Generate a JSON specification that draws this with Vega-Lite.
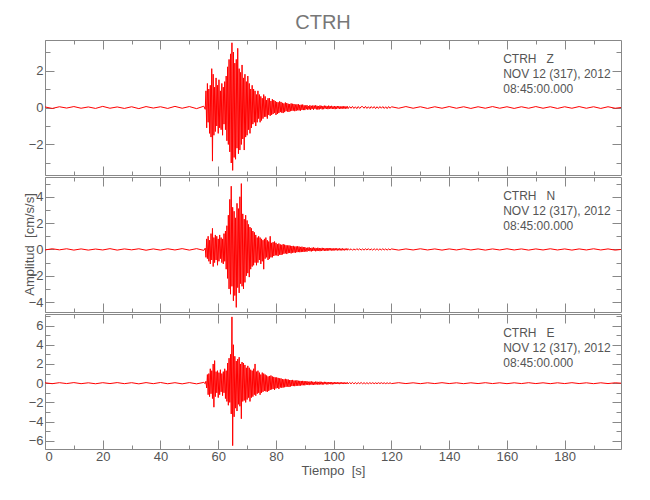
{
"$schema": "https://vega.github.io/schema/vega-lite/v6.json",
"padding": {"left": 22, "top": 13, "right": 5, "bottom": 5},
"spacing": 0,
"title": {"text": "CTRH", "fontSize": 20, "font": "Liberation Sans", "color": "#777", "fontWeight": "normal", "anchor": "middle", "offset": 6},
"config": {
  "view": {"stroke": "#888", "strokeWidth": 1},
  "axis": {"labelFont": "Liberation Sans", "labelFontSize": 13, "labelColor": "#555", "titleFont": "Liberation Sans", "titleFontSize": 13, "titleColor": "#555", "titleFontWeight": "normal", "tickColor": "#888", "grid": false, "domain": false}
},
"datasets": {
"z": [{"t":0,"v":0.03},{"t":2.5,"v":-0.05},{"t":5,"v":0.04},{"t":7.5,"v":-0.03},{"t":10,"v":0.05},{"t":12.5,"v":-0.04},{"t":15,"v":0.03},{"t":17.5,"v":-0.05},{"t":20,"v":0.06},{"t":22.5,"v":-0.04},{"t":25,"v":0.03},{"t":27.5,"v":-0.05},{"t":30,"v":0.04},{"t":32.5,"v":-0.06},{"t":35,"v":0.05},{"t":37.5,"v":-0.03},{"t":40,"v":0.04},{"t":42.5,"v":-0.05},{"t":45,"v":0.06},{"t":47.5,"v":-0.04},{"t":50,"v":0.05},{"t":52.5,"v":-0.06},{"t":55,"v":0.07},
{"t":55.5,"v":-0.1},{"t":55.75,"v":0.9},{"t":56,"v":-1.1},{"t":56.25,"v":1.3},{"t":56.5,"v":-0.8},{"t":56.75,"v":1.0},{"t":57,"v":-1.4},{"t":57.25,"v":1.2},{"t":57.5,"v":-1.6},{"t":57.75,"v":2.1},{"t":58,"v":-2.9},{"t":58.25,"v":1.8},{"t":58.5,"v":-1.5},{"t":58.75,"v":1.1},{"t":59,"v":-1.3},{"t":59.25,"v":1.6},{"t":59.5,"v":-1.0},{"t":59.75,"v":1.2},{"t":60,"v":-1.4},{"t":60.25,"v":1.5},{"t":60.5,"v":-1.1},{"t":60.75,"v":0.9},{"t":61,"v":-1.2},{"t":61.25,"v":1.3},{"t":61.5,"v":-1.5},{"t":61.75,"v":1.1},{"t":62,"v":-0.9},{"t":62.25,"v":1.4},{"t":62.5,"v":-1.2},{"t":62.75,"v":1.7},{"t":63,"v":-1.8},{"t":63.25,"v":2.2},{"t":63.5,"v":-2.0},{"t":63.75,"v":2.6},{"t":64,"v":-2.4},{"t":64.25,"v":2.9},{"t":64.5,"v":-3.0},{"t":64.75,"v":3.5},{"t":65,"v":-3.4},{"t":65.25,"v":3.0},{"t":65.5,"v":-2.7},{"t":65.75,"v":2.4},{"t":66,"v":-2.8},{"t":66.25,"v":2.6},{"t":66.5,"v":-2.2},{"t":66.75,"v":3.2},{"t":67,"v":-2.5},{"t":67.25,"v":2.1},{"t":67.5,"v":-2.3},{"t":67.75,"v":1.9},{"t":68,"v":-2.0},{"t":68.25,"v":2.3},{"t":68.5,"v":-1.7},{"t":68.75,"v":1.6},{"t":69,"v":-2.3},{"t":69.25,"v":1.8},{"t":69.5,"v":-1.6},{"t":69.75,"v":1.4},{"t":70,"v":-1.5},{"t":70.25,"v":1.7},{"t":70.5,"v":-1.2},{"t":70.75,"v":1.3},{"t":71,"v":-1.4},{"t":71.25,"v":1.0},{"t":71.5,"v":-1.1},{"t":71.75,"v":1.2},{"t":72,"v":-0.9},{"t":72.25,"v":1.0},{"t":72.5,"v":-0.8},{"t":72.75,"v":0.9},{"t":73,"v":-1.0},{"t":73.25,"v":0.7},{"t":73.5,"v":-0.8},{"t":73.75,"v":0.9},{"t":74,"v":-0.6},{"t":74.25,"v":0.7},{"t":74.5,"v":-0.8},{"t":74.75,"v":0.6},{"t":75,"v":-0.7},{"t":75.25,"v":0.5},{"t":75.5,"v":-0.6},{"t":75.75,"v":0.7},{"t":76,"v":-0.5},{"t":76.25,"v":0.6},{"t":76.5,"v":-0.5},{"t":76.75,"v":0.4},{"t":77,"v":-0.6},{"t":77.25,"v":0.5},{"t":77.5,"v":-0.4},{"t":77.75,"v":0.5},{"t":78,"v":-0.45},{"t":78.25,"v":0.35},{"t":78.5,"v":-0.4},{"t":78.75,"v":0.45},{"t":79,"v":-0.35},{"t":79.25,"v":0.4},{"t":79.5,"v":-0.3},{"t":79.75,"v":0.35},{"t":80,"v":-0.4},{"t":80.25,"v":0.3},{"t":80.5,"v":-0.35},{"t":80.75,"v":0.28},{"t":81,"v":-0.3},{"t":81.25,"v":0.33},{"t":81.5,"v":-0.25},{"t":81.75,"v":0.3},{"t":82,"v":-0.28},{"t":82.25,"v":0.25},{"t":82.5,"v":-0.3},{"t":82.75,"v":0.22},{"t":83,"v":-0.25},{"t":83.25,"v":0.27},{"t":83.5,"v":-0.2},{"t":83.75,"v":0.24},{"t":84,"v":-0.22},{"t":84.25,"v":0.2},{"t":84.5,"v":-0.24},{"t":84.75,"v":0.19},{"t":85,"v":-0.2},{"t":85.25,"v":0.22},{"t":85.5,"v":-0.18},{"t":85.75,"v":0.2},{"t":86,"v":-0.17},{"t":86.25,"v":0.19},{"t":86.5,"v":-0.2},{"t":86.75,"v":0.16},{"t":87,"v":-0.18},{"t":87.25,"v":0.17},{"t":87.5,"v":-0.15},{"t":87.75,"v":0.18},{"t":88,"v":-0.16},{"t":88.25,"v":0.14},{"t":88.5,"v":-0.17},{"t":88.75,"v":0.15},{"t":89,"v":-0.13},{"t":89.25,"v":0.16},{"t":89.5,"v":-0.14},{"t":89.75,"v":0.12},
{"t":90,"v":-0.14},{"t":90.25,"v":0.11},{"t":90.5,"v":-0.09},{"t":90.75,"v":0.13},{"t":91,"v":-0.12},{"t":91.25,"v":0.08},{"t":91.5,"v":-0.1},{"t":91.75,"v":0.12},{"t":92,"v":-0.13},{"t":92.25,"v":0.09},
{"t":92.5,"v":-0.08},{"t":92.75,"v":0.11},{"t":93,"v":-0.12},{"t":93.25,"v":0.1},{"t":93.5,"v":-0.07},{"t":93.75,"v":0.12},{"t":94,"v":-0.1},{"t":94.25,"v":0.09},{"t":94.5,"v":-0.11},{"t":94.75,"v":0.08},
{"t":95,"v":-0.1},{"t":95.25,"v":0.11},{"t":95.5,"v":-0.07},{"t":95.75,"v":0.09},{"t":96,"v":-0.1},{"t":96.25,"v":0.08},{"t":96.5,"v":-0.09},{"t":96.75,"v":0.1},{"t":97,"v":-0.06},{"t":97.25,"v":0.09},
{"t":97.5,"v":-0.08},{"t":97.75,"v":0.07},{"t":98,"v":-0.09},{"t":98.25,"v":0.1},{"t":98.5,"v":-0.07},{"t":98.75,"v":0.08},{"t":99,"v":-0.06},{"t":99.25,"v":0.09},{"t":99.5,"v":-0.08},{"t":99.75,"v":0.06},
{"t":100,"v":-0.07},{"t":100.25,"v":0.08},{"t":100.5,"v":-0.09},{"t":100.75,"v":0.06},{"t":101,"v":-0.07},{"t":101.25,"v":0.08},{"t":101.5,"v":-0.05},{"t":101.75,"v":0.07},{"t":102,"v":-0.08},{"t":102.25,"v":0.06},
{"t":102.5,"v":-0.07},{"t":102.75,"v":0.05},{"t":103,"v":-0.06},{"t":103.25,"v":0.08},{"t":103.5,"v":-0.06},{"t":103.75,"v":0.05},{"t":104,"v":-0.07},{"t":104.25,"v":0.06},{"t":104.5,"v":-0.05},{"t":104.75,"v":0.06},
{"t":105,"v":-0.06},{"t":105.5,"v":0.05},{"t":106,"v":-0.04},{"t":106.5,"v":0.06},{"t":107,"v":-0.05},{"t":107.5,"v":0.04},{"t":108,"v":-0.06},{"t":108.5,"v":0.05},{"t":109,"v":-0.05},{"t":109.5,"v":0.04},{"t":110,"v":0.05},{"t":110.5,"v":-0.04},{"t":111,"v":0.06},{"t":111.5,"v":-0.05},{"t":112,"v":0.04},{"t":112.5,"v":-0.05},{"t":113,"v":0.05},{"t":113.5,"v":-0.04},{"t":114,"v":0.05},{"t":114.5,"v":-0.06},{"t":115,"v":0.04},{"t":115.5,"v":-0.05},{"t":116,"v":0.05},{"t":116.5,"v":-0.04},{"t":117,"v":0.05},{"t":117.5,"v":-0.05},{"t":118,"v":0.04},{"t":118.5,"v":-0.06},{"t":119,"v":0.05},{"t":119.5,"v":-0.04},
{"t":120,"v":0.04},{"t":122.5,"v":-0.04},{"t":125,"v":0.05},{"t":127.5,"v":-0.04},{"t":130,"v":0.04},{"t":132.5,"v":-0.05},{"t":135,"v":0.04},{"t":137.5,"v":-0.04},{"t":140,"v":0.05},{"t":142.5,"v":-0.04},{"t":145,"v":0.04},{"t":147.5,"v":-0.05},{"t":150,"v":0.04},{"t":152.5,"v":-0.04},{"t":155,"v":0.05},{"t":157.5,"v":-0.04},{"t":160,"v":0.04},{"t":162.5,"v":-0.05},{"t":165,"v":0.04},{"t":167.5,"v":-0.04},{"t":170,"v":0.05},{"t":172.5,"v":-0.04},{"t":175,"v":0.04},{"t":177.5,"v":-0.05},{"t":180,"v":0.04},{"t":182.5,"v":-0.04},{"t":185,"v":0.05},{"t":187.5,"v":-0.04},{"t":190,"v":0.04},{"t":192.5,"v":-0.05},{"t":195,"v":0.04},{"t":197.5,"v":-0.04},{"t":199.5,"v":0}],
"n": [{"t":0,"v":-0.04},{"t":2.5,"v":0.05},{"t":5,"v":-0.03},{"t":7.5,"v":0.05},{"t":10,"v":-0.05},{"t":12.5,"v":0.04},{"t":15,"v":-0.05},{"t":17.5,"v":0.03},{"t":20,"v":-0.04},{"t":22.5,"v":0.06},{"t":25,"v":-0.05},{"t":27.5,"v":0.04},{"t":30,"v":-0.03},{"t":32.5,"v":0.05},{"t":35,"v":-0.06},{"t":37.5,"v":0.04},{"t":40,"v":-0.05},{"t":42.5,"v":0.05},{"t":45,"v":-0.04},{"t":47.5,"v":0.06},{"t":50,"v":-0.05},{"t":52.5,"v":0.06},{"t":55,"v":-0.07},
{"t":55.5,"v":0.1},{"t":55.75,"v":-0.6},{"t":56,"v":0.8},{"t":56.25,"v":-0.7},{"t":56.5,"v":1.0},{"t":56.75,"v":-0.9},{"t":57,"v":0.7},{"t":57.25,"v":-1.1},{"t":57.5,"v":1.2},{"t":57.75,"v":-0.8},{"t":58,"v":1.6},{"t":58.25,"v":-1.3},{"t":58.5,"v":0.9},{"t":58.75,"v":-1.0},{"t":59,"v":1.1},{"t":59.25,"v":-0.8},{"t":59.5,"v":1.0},{"t":59.75,"v":-1.2},{"t":60,"v":0.8},{"t":60.25,"v":-0.9},{"t":60.5,"v":1.1},{"t":60.75,"v":-0.7},{"t":61,"v":0.9},{"t":61.25,"v":-1.0},{"t":61.5,"v":0.8},{"t":61.75,"v":-1.1},{"t":62,"v":1.2},{"t":62.25,"v":-0.9},{"t":62.5,"v":1.4},{"t":62.75,"v":-1.5},{"t":63,"v":1.8},{"t":63.25,"v":-2.2},{"t":63.5,"v":2.6},{"t":63.75,"v":-3.0},{"t":64,"v":3.8},{"t":64.25,"v":-3.4},{"t":64.5,"v":4.8},{"t":64.75,"v":-2.8},{"t":65,"v":3.2},{"t":65.25,"v":-3.9},{"t":65.5,"v":2.9},{"t":65.75,"v":-3.5},{"t":66,"v":2.4},{"t":66.25,"v":-4.4},{"t":66.5,"v":3.5},{"t":66.75,"v":-2.9},{"t":67,"v":3.1},{"t":67.25,"v":-3.3},{"t":67.5,"v":4.0},{"t":67.75,"v":-2.6},{"t":68,"v":5.0},{"t":68.25,"v":-2.8},{"t":68.5,"v":2.7},{"t":68.75,"v":-3.0},{"t":69,"v":2.3},{"t":69.25,"v":-2.5},{"t":69.5,"v":2.6},{"t":69.75,"v":-2.0},{"t":70,"v":2.2},{"t":70.25,"v":-1.8},{"t":70.5,"v":1.9},{"t":70.75,"v":-2.1},{"t":71,"v":1.7},{"t":71.25,"v":-1.5},{"t":71.5,"v":1.6},{"t":71.75,"v":-1.3},{"t":72,"v":1.4},{"t":72.25,"v":-1.2},{"t":72.5,"v":1.3},{"t":72.75,"v":-1.0},{"t":73,"v":1.1},{"t":73.25,"v":-1.2},{"t":73.5,"v":0.9},{"t":73.75,"v":-1.0},{"t":74,"v":1.0},{"t":74.25,"v":-0.8},{"t":74.5,"v":0.9},{"t":74.75,"v":-1.1},{"t":75,"v":0.8},{"t":75.25,"v":-0.9},{"t":75.5,"v":0.7},{"t":75.75,"v":-1.5},{"t":76,"v":0.8},{"t":76.25,"v":-0.7},{"t":76.5,"v":0.9},{"t":76.75,"v":-0.6},{"t":77,"v":0.7},{"t":77.25,"v":-0.8},{"t":77.5,"v":0.6},{"t":77.75,"v":-0.7},{"t":78,"v":1.0},{"t":78.25,"v":-0.6},{"t":78.5,"v":0.5},{"t":78.75,"v":-0.6},{"t":79,"v":0.55},{"t":79.25,"v":-0.5},{"t":79.5,"v":0.6},{"t":79.75,"v":-0.45},{"t":80,"v":0.5},{"t":80.25,"v":-0.45},{"t":80.5,"v":0.4},{"t":80.75,"v":-0.5},{"t":81,"v":0.45},{"t":81.25,"v":-0.4},{"t":81.5,"v":0.38},{"t":81.75,"v":-0.42},{"t":82,"v":0.35},{"t":82.25,"v":-0.38},{"t":82.5,"v":0.4},{"t":82.75,"v":-0.33},{"t":83,"v":0.36},{"t":83.25,"v":-0.3},{"t":83.5,"v":0.32},{"t":83.75,"v":-0.35},{"t":84,"v":0.3},{"t":84.25,"v":-0.28},{"t":84.5,"v":0.31},{"t":84.75,"v":-0.27},{"t":85,"v":0.28},{"t":85.25,"v":-0.3},{"t":85.5,"v":0.26},{"t":85.75,"v":-0.25},{"t":86,"v":0.27},{"t":86.25,"v":-0.24},{"t":86.5,"v":0.22},{"t":86.75,"v":-0.25},{"t":87,"v":0.23},{"t":87.25,"v":-0.21},{"t":87.5,"v":0.24},{"t":87.75,"v":-0.2},{"t":88,"v":0.22},{"t":88.25,"v":-0.21},{"t":88.5,"v":0.19},{"t":88.75,"v":-0.2},{"t":89,"v":0.21},{"t":89.25,"v":-0.18},{"t":89.5,"v":0.17},{"t":89.75,"v":-0.19},
{"t":90,"v":0.18},{"t":90.25,"v":-0.15},{"t":90.5,"v":0.12},{"t":90.75,"v":-0.17},{"t":91,"v":0.14},{"t":91.25,"v":-0.1},{"t":91.5,"v":0.16},{"t":91.75,"v":-0.13},{"t":92,"v":0.11},{"t":92.25,"v":-0.15},
{"t":92.5,"v":0.13},{"t":92.75,"v":-0.12},{"t":93,"v":0.15},{"t":93.25,"v":-0.1},{"t":93.5,"v":0.12},{"t":93.75,"v":-0.14},{"t":94,"v":0.09},{"t":94.25,"v":-0.12},{"t":94.5,"v":0.13},{"t":94.75,"v":-0.1},
{"t":95,"v":0.11},{"t":95.25,"v":-0.13},{"t":95.5,"v":0.09},{"t":95.75,"v":-0.11},{"t":96,"v":0.12},{"t":96.25,"v":-0.08},{"t":96.5,"v":0.1},{"t":96.75,"v":-0.11},{"t":97,"v":0.09},{"t":97.25,"v":-0.1},
{"t":97.5,"v":0.08},{"t":97.75,"v":-0.1},{"t":98,"v":0.11},{"t":98.25,"v":-0.08},{"t":98.5,"v":0.09},{"t":98.75,"v":-0.07},{"t":99,"v":0.1},{"t":99.25,"v":-0.08},{"t":99.5,"v":0.07},{"t":99.75,"v":-0.09},
{"t":100,"v":0.08},{"t":100.25,"v":-0.07},{"t":100.5,"v":0.09},{"t":100.75,"v":-0.06},{"t":101,"v":0.08},{"t":101.25,"v":-0.08},{"t":101.5,"v":0.07},{"t":101.75,"v":-0.06},{"t":102,"v":0.08},{"t":102.25,"v":-0.07},
{"t":102.5,"v":0.06},{"t":102.75,"v":-0.07},{"t":103,"v":0.08},{"t":103.25,"v":-0.06},{"t":103.5,"v":0.05},{"t":103.75,"v":-0.07},{"t":104,"v":0.06},{"t":104.25,"v":-0.05},{"t":104.5,"v":0.07},{"t":104.75,"v":-0.06},
{"t":105,"v":0.06},{"t":105.5,"v":-0.05},{"t":106,"v":0.05},{"t":106.5,"v":-0.06},{"t":107,"v":0.04},{"t":107.5,"v":-0.05},{"t":108,"v":0.06},{"t":108.5,"v":-0.04},{"t":109,"v":0.05},{"t":109.5,"v":-0.05},{"t":110,"v":0.04},{"t":110.5,"v":-0.05},{"t":111,"v":0.05},{"t":111.5,"v":-0.04},{"t":112,"v":0.06},{"t":112.5,"v":-0.05},{"t":113,"v":0.04},{"t":113.5,"v":-0.05},{"t":114,"v":0.05},{"t":114.5,"v":-0.04},{"t":115,"v":0.05},{"t":115.5,"v":-0.05},{"t":116,"v":0.04},{"t":116.5,"v":-0.04},{"t":117,"v":0.05},{"t":117.5,"v":-0.04},{"t":118,"v":0.04},{"t":118.5,"v":-0.05},{"t":119,"v":0.04},{"t":119.5,"v":-0.04},
{"t":120,"v":0.04},{"t":122.5,"v":-0.05},{"t":125,"v":0.04},{"t":127.5,"v":-0.04},{"t":130,"v":0.05},{"t":132.5,"v":-0.04},{"t":135,"v":0.04},{"t":137.5,"v":-0.05},{"t":140,"v":0.04},{"t":142.5,"v":-0.04},{"t":145,"v":0.05},{"t":147.5,"v":-0.04},{"t":150,"v":0.04},{"t":152.5,"v":-0.05},{"t":155,"v":0.04},{"t":157.5,"v":-0.04},{"t":160,"v":0.05},{"t":162.5,"v":-0.04},{"t":165,"v":0.04},{"t":167.5,"v":-0.05},{"t":170,"v":0.04},{"t":172.5,"v":-0.04},{"t":175,"v":0.05},{"t":177.5,"v":-0.04},{"t":180,"v":0.04},{"t":182.5,"v":-0.05},{"t":185,"v":0.04},{"t":187.5,"v":-0.04},{"t":190,"v":0.05},{"t":192.5,"v":-0.04},{"t":195,"v":0.04},{"t":197.5,"v":-0.05},{"t":199.5,"v":0}],
"e": [{"t":0,"v":0.04},{"t":2.5,"v":-0.05},{"t":5,"v":0.05},{"t":7.5,"v":-0.04},{"t":10,"v":0.06},{"t":12.5,"v":-0.05},{"t":15,"v":0.04},{"t":17.5,"v":-0.06},{"t":20,"v":0.05},{"t":22.5,"v":-0.04},{"t":25,"v":0.06},{"t":27.5,"v":-0.05},{"t":30,"v":0.05},{"t":32.5,"v":-0.07},{"t":35,"v":0.06},{"t":37.5,"v":-0.05},{"t":40,"v":0.07},{"t":42.5,"v":-0.06},{"t":45,"v":0.05},{"t":47.5,"v":-0.07},{"t":50,"v":0.06},{"t":52.5,"v":-0.07},{"t":55,"v":0.08},
{"t":55.5,"v":-0.05},{"t":55.75,"v":0.2},{"t":56,"v":-0.5},{"t":56.25,"v":0.9},{"t":56.5,"v":-1.2},{"t":56.75,"v":1.0},{"t":57,"v":-1.4},{"t":57.25,"v":1.5},{"t":57.5,"v":-1.1},{"t":57.75,"v":1.3},{"t":58,"v":-1.6},{"t":58.25,"v":2.0},{"t":58.5,"v":-2.5},{"t":58.75,"v":2.35},{"t":59,"v":-1.4},{"t":59.25,"v":1.2},{"t":59.5,"v":-1.0},{"t":59.75,"v":1.3},{"t":60,"v":-1.5},{"t":60.25,"v":1.1},{"t":60.5,"v":-1.2},{"t":60.75,"v":1.4},{"t":61,"v":-0.9},{"t":61.25,"v":1.0},{"t":61.5,"v":-1.3},{"t":61.75,"v":1.2},{"t":62,"v":-1.0},{"t":62.25,"v":1.5},{"t":62.5,"v":-1.6},{"t":62.75,"v":1.3},{"t":63,"v":-1.9},{"t":63.25,"v":2.1},{"t":63.5,"v":-2.3},{"t":63.75,"v":2.6},{"t":64,"v":-2.0},{"t":64.25,"v":3.0},{"t":64.5,"v":-3.2},{"t":64.75,"v":6.9},{"t":65,"v":-6.5},{"t":65.25,"v":4.0},{"t":65.5,"v":-3.5},{"t":65.75,"v":2.8},{"t":66,"v":-2.6},{"t":66.25,"v":2.3},{"t":66.5,"v":-2.9},{"t":66.75,"v":2.5},{"t":67,"v":-2.2},{"t":67.25,"v":2.7},{"t":67.5,"v":-2.4},{"t":67.75,"v":2.0},{"t":68,"v":-3.7},{"t":68.25,"v":2.2},{"t":68.5,"v":-1.9},{"t":68.75,"v":2.1},{"t":69,"v":-1.8},{"t":69.25,"v":1.9},{"t":69.5,"v":-2.0},{"t":69.75,"v":1.6},{"t":70,"v":-1.7},{"t":70.25,"v":1.8},{"t":70.5,"v":-1.5},{"t":70.75,"v":1.6},{"t":71,"v":-1.9},{"t":71.25,"v":1.4},{"t":71.5,"v":-1.5},{"t":71.75,"v":1.3},{"t":72,"v":-1.4},{"t":72.25,"v":1.5},{"t":72.5,"v":-1.2},{"t":72.75,"v":2.0},{"t":73,"v":-1.3},{"t":73.25,"v":1.2},{"t":73.5,"v":-1.1},{"t":73.75,"v":1.3},{"t":74,"v":-1.0},{"t":74.25,"v":1.1},{"t":74.5,"v":-1.2},{"t":74.75,"v":0.9},{"t":75,"v":-1.0},{"t":75.25,"v":1.1},{"t":75.5,"v":-0.9},{"t":75.75,"v":1.0},{"t":76,"v":-0.8},{"t":76.25,"v":0.9},{"t":76.5,"v":-0.85},{"t":76.75,"v":0.8},{"t":77,"v":-0.9},{"t":77.25,"v":0.7},{"t":77.5,"v":-0.8},{"t":77.75,"v":0.75},{"t":78,"v":-0.7},{"t":78.25,"v":0.8},{"t":78.5,"v":-0.65},{"t":78.75,"v":0.7},{"t":79,"v":-0.6},{"t":79.25,"v":0.65},{"t":79.5,"v":-0.7},{"t":79.75,"v":0.6},{"t":80,"v":-0.55},{"t":80.25,"v":0.6},{"t":80.5,"v":-0.5},{"t":80.75,"v":0.55},{"t":81,"v":-0.6},{"t":81.25,"v":0.5},{"t":81.5,"v":-0.45},{"t":81.75,"v":0.5},{"t":82,"v":-0.48},{"t":82.25,"v":0.42},{"t":82.5,"v":-0.45},{"t":82.75,"v":0.4},{"t":83,"v":-0.42},{"t":83.25,"v":0.45},{"t":83.5,"v":-0.38},{"t":83.75,"v":0.4},{"t":84,"v":-0.35},{"t":84.25,"v":0.38},{"t":84.5,"v":-0.4},{"t":84.75,"v":0.33},{"t":85,"v":-0.35},{"t":85.25,"v":0.32},{"t":85.5,"v":-0.3},{"t":85.75,"v":0.34},{"t":86,"v":-0.3},{"t":86.25,"v":0.28},{"t":86.5,"v":-0.31},{"t":86.75,"v":0.27},{"t":87,"v":-0.28},{"t":87.25,"v":0.3},{"t":87.5,"v":-0.26},{"t":87.75,"v":0.25},{"t":88,"v":-0.27},{"t":88.25,"v":0.24},{"t":88.5,"v":-0.25},{"t":88.75,"v":0.23},{"t":89,"v":-0.22},{"t":89.25,"v":0.24},{"t":89.5,"v":-0.21},{"t":89.75,"v":0.22},
{"t":90,"v":-0.22},{"t":90.25,"v":0.19},{"t":90.5,"v":-0.16},{"t":90.75,"v":0.21},{"t":91,"v":-0.18},{"t":91.25,"v":0.15},{"t":91.5,"v":-0.2},{"t":91.75,"v":0.17},{"t":92,"v":-0.14},{"t":92.25,"v":0.19},
{"t":92.5,"v":-0.17},{"t":92.75,"v":0.15},{"t":93,"v":-0.18},{"t":93.25,"v":0.13},{"t":93.5,"v":-0.16},{"t":93.75,"v":0.17},{"t":94,"v":-0.12},{"t":94.25,"v":0.15},{"t":94.5,"v":-0.16},{"t":94.75,"v":0.13},
{"t":95,"v":-0.14},{"t":95.25,"v":0.16},{"t":95.5,"v":-0.12},{"t":95.75,"v":0.14},{"t":96,"v":-0.15},{"t":96.25,"v":0.11},{"t":96.5,"v":-0.13},{"t":96.75,"v":0.14},{"t":97,"v":-0.1},{"t":97.25,"v":0.13},
{"t":97.5,"v":-0.12},{"t":97.75,"v":0.1},{"t":98,"v":-0.13},{"t":98.25,"v":0.11},{"t":98.5,"v":-0.09},{"t":98.75,"v":0.12},{"t":99,"v":-0.11},{"t":99.25,"v":0.1},{"t":99.5,"v":-0.12},{"t":99.75,"v":0.09},
{"t":100,"v":-0.1},{"t":100.25,"v":0.11},{"t":100.5,"v":-0.09},{"t":100.75,"v":0.1},{"t":101,"v":-0.08},{"t":101.25,"v":0.1},{"t":101.5,"v":-0.09},{"t":101.75,"v":0.08},{"t":102,"v":-0.1},{"t":102.25,"v":0.09},
{"t":102.5,"v":-0.08},{"t":102.75,"v":0.09},{"t":103,"v":-0.07},{"t":103.25,"v":0.08},{"t":103.5,"v":-0.09},{"t":103.75,"v":0.07},{"t":104,"v":-0.08},{"t":104.25,"v":0.07},{"t":104.5,"v":-0.06},{"t":104.75,"v":0.08},
{"t":105,"v":-0.08},{"t":105.5,"v":0.07},{"t":106,"v":-0.06},{"t":106.5,"v":0.08},{"t":107,"v":-0.07},{"t":107.5,"v":0.06},{"t":108,"v":-0.07},{"t":108.5,"v":0.06},{"t":109,"v":-0.05},{"t":109.5,"v":0.07},{"t":110,"v":-0.06},{"t":110.5,"v":0.05},{"t":111,"v":-0.06},{"t":111.5,"v":0.05},{"t":112,"v":-0.06},{"t":112.5,"v":0.05},{"t":113,"v":-0.04},{"t":113.5,"v":0.05},{"t":114,"v":-0.05},{"t":114.5,"v":0.04},{"t":115,"v":-0.05},{"t":115.5,"v":0.05},{"t":116,"v":-0.04},{"t":116.5,"v":0.05},{"t":117,"v":-0.04},{"t":117.5,"v":0.04},{"t":118,"v":-0.05},{"t":118.5,"v":0.04},{"t":119,"v":-0.04},{"t":119.5,"v":0.04},
{"t":120,"v":-0.04},{"t":122.5,"v":0.05},{"t":125,"v":-0.04},{"t":127.5,"v":0.04},{"t":130,"v":-0.05},{"t":132.5,"v":0.04},{"t":135,"v":-0.04},{"t":137.5,"v":0.05},{"t":140,"v":-0.04},{"t":142.5,"v":0.04},{"t":145,"v":-0.05},{"t":147.5,"v":0.04},{"t":150,"v":-0.04},{"t":152.5,"v":0.05},{"t":155,"v":-0.04},{"t":157.5,"v":0.04},{"t":160,"v":-0.05},{"t":162.5,"v":0.04},{"t":165,"v":-0.04},{"t":167.5,"v":0.05},{"t":170,"v":-0.04},{"t":172.5,"v":0.04},{"t":175,"v":-0.05},{"t":177.5,"v":0.04},{"t":180,"v":-0.04},{"t":182.5,"v":0.05},{"t":185,"v":-0.04},{"t":187.5,"v":0.04},{"t":190,"v":-0.05},{"t":192.5,"v":0.04},{"t":195,"v":-0.04},{"t":197.5,"v":0.04},{"t":199.5,"v":0}]
},
"vconcat": [
{
 "width": 576, "height": 135,
 "layer": [
  {"data": {"name": "z"}, "mark": {"type": "line", "color": "#ff0000", "strokeWidth": 1},
   "encoding": {
    "x": {"field": "t", "type": "quantitative", "scale": {"domain": [0, 199.5], "nice": false, "zero": false}, "axis": {"orient": "bottom", "values": [0,20,40,60,80,100,120,140,160,180], "labels": false, "ticks": false, "title": null}},
    "y": {"field": "v", "type": "quantitative", "scale": {"domain": [-3.65, 3.65], "nice": false, "zero": false}, "axis": {"orient": "left", "values": [-2,0,2], "ticks": false, "title": null, "labelPadding": 2}}
   }},
  {"data": {"values": [{"txt": ["CTRH\u00a0\u00a0\u00a0Z", "NOV 12 (317), 2012", "08:45:00.000"]}]},
   "mark": {"type": "text", "align": "left", "baseline": "top", "fontSize": 12, "lineHeight": 15, "color": "#555", "font": "Liberation Sans"},
   "encoding": {
    "x": {"datum": 158.7, "type": "quantitative", "axis": {"orient": "bottom", "values": [0,10,20,30,40,50,60,70,80,90,100,110,120,130,140,150,160,170,180,190], "labels": false, "title": null, "tickSize": {"condition": {"test": "datum.value % 20 === 0", "value": -9}, "value": -4}}},
    "y": {"datum": 2.89, "type": "quantitative", "axis": {"orient": "left", "values": [-3,-2,-1,0,1,2,3], "labels": false, "title": null, "tickSize": {"condition": {"test": "datum.value % 2 === 0", "value": -9}, "value": -5}}},
    "text": {"field": "txt", "type": "nominal"}
   }},
  {"data": {"name": "z"}, "mark": {"type": "line", "opacity": 0},
   "encoding": {
    "x": {"field": "t", "type": "quantitative", "axis": {"orient": "top", "values": [0,10,20,30,40,50,60,70,80,90,100,110,120,130,140,150,160,170,180,190], "labels": false, "title": null, "tickSize": {"condition": {"test": "datum.value % 20 === 0", "value": -9}, "value": -4}}},
    "y": {"field": "v", "type": "quantitative", "axis": {"orient": "right", "values": [-3,-2,-1,0,1,2,3], "labels": false, "title": null, "tickSize": {"condition": {"test": "datum.value % 2 === 0", "value": -9}, "value": -5}}}
   }}
 ],
 "resolve": {"axis": {"x": "independent", "y": "independent"}}
},
{
 "width": 576, "height": 135,
 "layer": [
  {"data": {"name": "n"}, "mark": {"type": "line", "color": "#ff0000", "strokeWidth": 1},
   "encoding": {
    "x": {"field": "t", "type": "quantitative", "scale": {"domain": [0, 199.5], "nice": false, "zero": false}, "axis": {"orient": "bottom", "values": [0,20,40,60,80,100,120,140,160,180], "labels": false, "ticks": false, "title": null}},
    "y": {"field": "v", "type": "quantitative", "scale": {"domain": [-4.75, 5.5], "nice": false, "zero": false}, "axis": {"orient": "left", "values": [-4,-2,0,2,4], "ticks": false, "title": "Amplitud\u00a0\u00a0[cm/s/s]", "labelPadding": 2, "titleX": -16, "titleY": 67, "titleAngle": -90, "titleBaseline": "middle", "titleAlign": "center"}}
   }},
  {"data": {"values": [{"txt": ["CTRH\u00a0\u00a0\u00a0N", "NOV 12 (317), 2012", "08:45:00.000"]}]},
   "mark": {"type": "text", "align": "left", "baseline": "top", "fontSize": 12, "lineHeight": 15, "color": "#555", "font": "Liberation Sans"},
   "encoding": {
    "x": {"datum": 158.7, "type": "quantitative", "axis": {"orient": "bottom", "values": [0,10,20,30,40,50,60,70,80,90,100,110,120,130,140,150,160,170,180,190], "labels": false, "title": null, "tickSize": {"condition": {"test": "datum.value % 20 === 0", "value": -9}, "value": -4}}},
    "y": {"datum": 4.43, "type": "quantitative", "axis": {"orient": "left", "values": [-4,-3,-2,-1,0,1,2,3,4,5], "labels": false, "title": null, "tickSize": {"condition": {"test": "datum.value % 2 === 0", "value": -9}, "value": -5}}},
    "text": {"field": "txt", "type": "nominal"}
   }},
  {"data": {"name": "n"}, "mark": {"type": "line", "opacity": 0},
   "encoding": {
    "x": {"field": "t", "type": "quantitative", "axis": {"orient": "top", "values": [0,10,20,30,40,50,60,70,80,90,100,110,120,130,140,150,160,170,180,190], "labels": false, "title": null, "tickSize": {"condition": {"test": "datum.value % 20 === 0", "value": -9}, "value": -4}}},
    "y": {"field": "v", "type": "quantitative", "axis": {"orient": "right", "values": [-4,-3,-2,-1,0,1,2,3,4,5], "labels": false, "title": null, "tickSize": {"condition": {"test": "datum.value % 2 === 0", "value": -9}, "value": -5}}}
   }}
 ],
 "resolve": {"axis": {"x": "independent", "y": "independent"}}
},
{
 "width": 576, "height": 135,
 "layer": [
  {"data": {"name": "e"}, "mark": {"type": "line", "color": "#ff0000", "strokeWidth": 1},
   "encoding": {
    "x": {"field": "t", "type": "quantitative", "scale": {"domain": [0, 199.5], "nice": false, "zero": false}, "axis": {"orient": "bottom", "values": [0,20,40,60,80,100,120,140,160,180], "ticks": false, "title": "Tiempo\u00a0\u00a0[s]", "labelPadding": 1, "titlePadding": 1}},
    "y": {"field": "v", "type": "quantitative", "scale": {"domain": [-6.85, 7.2], "nice": false, "zero": false}, "axis": {"orient": "left", "values": [-6,-4,-2,0,2,4,6], "ticks": false, "title": null, "labelPadding": 2}}
   }},
  {"data": {"values": [{"txt": ["CTRH\u00a0\u00a0\u00a0E", "NOV 12 (317), 2012", "08:45:00.000"]}]},
   "mark": {"type": "text", "align": "left", "baseline": "top", "fontSize": 12, "lineHeight": 15, "color": "#555", "font": "Liberation Sans"},
   "encoding": {
    "x": {"datum": 158.7, "type": "quantitative", "axis": {"orient": "bottom", "values": [0,10,20,30,40,50,60,70,80,90,100,110,120,130,140,150,160,170,180,190], "labels": false, "title": null, "tickSize": {"condition": {"test": "datum.value % 20 === 0", "value": -9}, "value": -4}}},
    "y": {"datum": 5.74, "type": "quantitative", "axis": {"orient": "left", "values": [-6,-5,-4,-3,-2,-1,0,1,2,3,4,5,6,7], "labels": false, "title": null, "tickSize": {"condition": {"test": "datum.value % 2 === 0", "value": -9}, "value": -5}}},
    "text": {"field": "txt", "type": "nominal"}
   }},
  {"data": {"name": "e"}, "mark": {"type": "line", "opacity": 0},
   "encoding": {
    "x": {"field": "t", "type": "quantitative", "axis": {"orient": "top", "values": [0,10,20,30,40,50,60,70,80,90,100,110,120,130,140,150,160,170,180,190], "labels": false, "title": null, "tickSize": {"condition": {"test": "datum.value % 20 === 0", "value": -9}, "value": -4}}},
    "y": {"field": "v", "type": "quantitative", "axis": {"orient": "right", "values": [-6,-5,-4,-3,-2,-1,0,1,2,3,4,5,6,7], "labels": false, "title": null, "tickSize": {"condition": {"test": "datum.value % 2 === 0", "value": -9}, "value": -5}}}
   }}
 ],
 "resolve": {"axis": {"x": "independent", "y": "independent"}}
}
]
}
